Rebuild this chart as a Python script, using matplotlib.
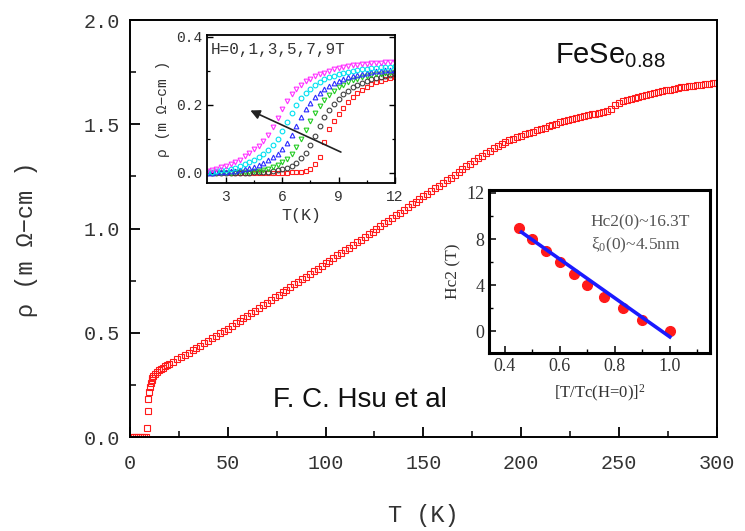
import matplotlib
matplotlib.use("Agg")
import matplotlib.pyplot as plt
from matplotlib.ticker import MultipleLocator

plt.rcParams["mathtext.default"] = "regular"

MONO = ["Liberation Mono", "DejaVu Sans Mono"]
SERIF = ["Liberation Serif", "DejaVu Serif"]
SANS = ["Liberation Sans", "DejaVu Sans"]
TXT = "#333333"

# ---- main curve: rho(T), zero field ----
T_low = [1, 2, 3, 4, 5, 6, 7, 8, 8.5, 9.0, 9.3, 9.6, 10, 10.5, 11, 11.5, 12, 13, 14, 15, 16, 17, 18, 19]
rho_low = [0, 0, 0, 0, 0, 0, 0, 0.002, 0.043, 0.127, 0.183, 0.218, 0.240, 0.258, 0.272, 0.283, 0.291,
           0.304, 0.314, 0.321, 0.327, 0.333, 0.339, 0.344]
T_high = [20, 22, 24, 26, 28, 30, 32, 34, 36, 38, 40, 42, 44, 46, 48, 50, 52, 54, 56, 58,
          60, 62, 64, 66, 68, 70, 72, 74, 76, 78, 80, 82, 84, 86, 88, 90, 92, 94, 96, 98,
          100, 102, 104, 106, 108, 110, 112, 114, 116, 118, 120, 122, 124, 126, 128, 130, 132, 134, 136, 138,
          140, 142, 144, 146, 148, 150, 152, 154, 156, 158, 160, 162, 164, 166, 168, 170, 172, 174, 176, 178,
          180, 182, 184, 186, 188, 190, 192, 194, 196, 198, 200, 202, 204, 206, 208, 210, 212, 214, 216, 218,
          220, 222, 224, 226, 228, 230, 232, 234, 236, 238, 240, 242, 244, 246, 248, 250, 252, 254, 256, 258,
          260, 262, 264, 266, 268, 270, 272, 274, 276, 278, 280, 282, 284, 286, 288, 290, 292, 294, 296, 298, 300]
rho_high = [0.350, 0.361, 0.372, 0.383, 0.394, 0.405, 0.416, 0.428, 0.439, 0.451,
            0.462, 0.474, 0.485, 0.497, 0.508, 0.520, 0.532, 0.545, 0.557, 0.570,
            0.582, 0.595, 0.607, 0.620, 0.632, 0.645, 0.657, 0.670, 0.682, 0.695,
            0.707, 0.720, 0.732, 0.745, 0.757, 0.770, 0.783, 0.795, 0.808, 0.820,
            0.833, 0.846, 0.858, 0.871, 0.883, 0.896, 0.909, 0.922, 0.934, 0.947,
            0.960, 0.973, 0.986, 0.999, 1.012, 1.025, 1.038, 1.051, 1.064, 1.077,
            1.090, 1.103, 1.116, 1.129, 1.142, 1.155, 1.168, 1.180, 1.193, 1.205,
            1.218, 1.231, 1.245, 1.258, 1.272, 1.285, 1.298, 1.311, 1.324, 1.337,
            1.350, 1.362, 1.374, 1.386, 1.397, 1.408, 1.417, 1.425, 1.432, 1.439,
            1.446, 1.452, 1.459, 1.465, 1.472, 1.478, 1.484, 1.491, 1.497, 1.504,
            1.510, 1.515, 1.520, 1.525, 1.530, 1.535, 1.539, 1.544, 1.548, 1.552,
            1.556, 1.560, 1.566, 1.572, 1.592, 1.605, 1.611, 1.617, 1.622, 1.628,
            1.633, 1.637, 1.642, 1.646, 1.651, 1.655, 1.659, 1.663, 1.667, 1.670,
            1.674, 1.677, 1.680, 1.682, 1.685, 1.688, 1.690, 1.693, 1.695, 1.698, 1.700]

# ---- inset 1: low-T transitions in field ----
T_in = [2.00, 2.25, 2.50, 2.75, 3.00, 3.25, 3.50, 3.75, 4.00, 4.25, 4.50, 4.75, 5.00, 5.25,
        5.50, 5.75, 6.00, 6.25, 6.50, 6.75, 7.00, 7.25, 7.50, 7.75, 8.00, 8.25, 8.50, 8.75,
        9.00, 9.25, 9.50, 9.75, 10.00, 10.25, 10.50, 10.75, 11.00, 11.25, 11.50, 11.75, 12.00]
rho_0T = [0, 0, 0, 0, 0, 0, 0, 0, 0, 0, 0, 0, 0, 0, 0, 0, 0,
          0.001, 0.002, 0.003, 0.004, 0.006, 0.012, 0.025, 0.048, 0.090, 0.128, 0.153, 0.172,
          0.190, 0.207, 0.222, 0.235, 0.245, 0.253, 0.260, 0.266, 0.271, 0.276, 0.280, 0.283]
rho_1T = [0, 0, 0, 0, 0, 0, 0.001, 0.001, 0.001, 0.001, 0.002, 0.002, 0.003, 0.004,
          0.006, 0.008, 0.011, 0.015, 0.021, 0.030, 0.043, 0.060, 0.083, 0.110, 0.138, 0.163,
          0.185, 0.203, 0.218, 0.231, 0.242, 0.251, 0.259, 0.265, 0.271, 0.276, 0.280, 0.283,
          0.286, 0.288, 0.290]
rho_3T = [0, 0, 0, 0.001, 0.001, 0.001, 0.002, 0.002, 0.003, 0.004, 0.005, 0.007, 0.010, 0.013,
          0.018, 0.024, 0.032, 0.042, 0.056, 0.075, 0.099, 0.126, 0.153, 0.177, 0.198, 0.215,
          0.229, 0.241, 0.251, 0.259, 0.266, 0.272, 0.277, 0.281, 0.285, 0.288, 0.290, 0.292,
          0.294, 0.295, 0.296]
rho_5T = [0, 0.001, 0.002, 0.003, 0.004, 0.005, 0.007, 0.009, 0.012, 0.015, 0.019, 0.024, 0.030, 0.037,
          0.046, 0.057, 0.071, 0.089, 0.112, 0.138, 0.164, 0.187, 0.206, 0.222, 0.236, 0.247,
          0.256, 0.264, 0.270, 0.276, 0.281, 0.285, 0.288, 0.291, 0.294, 0.296, 0.298, 0.300,
          0.301, 0.302, 0.303]
rho_7T = [0.003, 0.004, 0.006, 0.008, 0.010, 0.013, 0.016, 0.020, 0.025, 0.031, 0.038, 0.046, 0.056, 0.068,
          0.082, 0.100, 0.124, 0.150, 0.177, 0.200, 0.219, 0.235, 0.248, 0.259, 0.268, 0.275,
          0.281, 0.286, 0.290, 0.294, 0.297, 0.300, 0.302, 0.304, 0.306, 0.308, 0.309, 0.310,
          0.311, 0.312, 0.313]
rho_9T = [0.007, 0.010, 0.013, 0.017, 0.021, 0.026, 0.032, 0.039, 0.049, 0.059, 0.069, 0.080, 0.094, 0.112,
          0.134, 0.160, 0.188, 0.212, 0.231, 0.246, 0.259, 0.269, 0.277, 0.284, 0.290, 0.295,
          0.300, 0.304, 0.308, 0.311, 0.314, 0.316, 0.318, 0.320, 0.321, 0.322, 0.323, 0.324,
          0.325, 0.326, 0.327]
inset_series = [
    (rho_0T, "s", "#ff2020"),
    (rho_1T, "o", "#404040"),
    (rho_3T, "v", "#22cc22"),
    (rho_5T, "^", "#2a2aff"),
    (rho_7T, "o", "#00e0f0"),
    (rho_9T, "v", "#ff30ff"),
]

# ---- inset 2: Hc2 vs reduced temperature ----
t2 = [0.45, 0.50, 0.55, 0.60, 0.65, 0.70, 0.76, 0.83, 0.90, 1.00]
hc2 = [9, 8, 7, 6, 5, 4, 3, 2, 1, 0]
fit_x = [0.46, 1.00]
fit_y = [8.6, -0.5]

fig = plt.figure(figsize=(7.45, 5.31), dpi=100, facecolor="white")

# main axes
ax = fig.add_axes([0.1745, 0.177, 0.7875, 0.785])
ax.plot(T_low + T_high, rho_low + rho_high, ls="none", marker="s", ms=4.2, mfc="none",
        mec="#ff1a1a", mew=0.8)
ax.set_xlim(0, 300)
ax.set_ylim(0, 2.0)
ax.xaxis.set_major_locator(MultipleLocator(50))
ax.xaxis.set_minor_locator(MultipleLocator(25))
ax.yaxis.set_major_locator(MultipleLocator(0.5))
ax.yaxis.set_minor_locator(MultipleLocator(0.25))
ax.yaxis.set_major_formatter(lambda v, p: f"{v:.1f}")
ax.tick_params(which="both", direction="in", colors="black", labelcolor=TXT, labelsize=14.5)
ax.tick_params(which="major", length=7, width=1.3)
ax.tick_params(which="minor", length=4, width=1.1)
ax.tick_params(axis="x", pad=12)
ax.tick_params(axis="y", pad=7)
for lab in ax.get_xticklabels() + ax.get_yticklabels():
    lab.set_family(MONO)
for s in ax.spines.values():
    s.set_linewidth(1.4)

fig.text(0.568, 0.03, "T (K)", family=MONO, fontsize=17, color=TXT, ha="center", va="center")
fig.text(0.035, 0.55, "ρ (m Ω−cm )", family=MONO, fontsize=17, color=TXT,
         rotation=90, ha="center", va="center")
ax.text(0.725, 0.915, "FeSe$_{0.88}$", transform=ax.transAxes, family=SANS, fontsize=21,
        color="#111111", ha="left", va="center")
ax.text(0.392, 0.088, "F. C. Hsu et al", transform=ax.transAxes, family=SANS, fontsize=20,
        color="#111111", ha="center", va="center")

# inset 1
a1 = fig.add_axes([0.278, 0.655, 0.252, 0.279])
for vals, mk, col in inset_series:
    a1.plot(T_in, vals, ls="none", marker=mk, ms=3.4, mfc="none", mec=col, mew=0.8)
a1.set_xlim(2, 12)
a1.set_ylim(-0.03, 0.405)
a1.xaxis.set_major_locator(MultipleLocator(3))
a1.xaxis.set_minor_locator(MultipleLocator(1.5))
a1.yaxis.set_major_locator(MultipleLocator(0.2))
a1.yaxis.set_minor_locator(MultipleLocator(0.1))
a1.yaxis.set_major_formatter(lambda v, p: f"{v:.1f}")
a1.tick_params(which="both", direction="in", right=True, labelsize=10.5, labelcolor=TXT)
a1.tick_params(which="major", length=4, width=1.0)
a1.tick_params(which="minor", length=2.5, width=0.9)
a1.tick_params(axis="x", pad=5)
for lab in a1.get_xticklabels() + a1.get_yticklabels():
    lab.set_family(MONO)
for s in a1.spines.values():
    s.set_linewidth(1.3)
a1.set_xlabel("T(K)", family=MONO, fontsize=12, color=TXT, labelpad=3)
a1.set_ylabel("ρ (m Ω−cm )", family=MONO, fontsize=10.5, color=TXT, labelpad=4)
a1.text(0.02, 0.9, "H=0,1,3,5,7,9T", transform=a1.transAxes, family=MONO, fontsize=11.5,
        color=TXT, ha="left", va="center")
a1.annotate("", xy=(4.17, 0.187), xytext=(9.26, 0.058),
            arrowprops=dict(arrowstyle="-|>", color="#222222", lw=1.2, mutation_scale=14))

# inset 2
a2 = fig.add_axes([0.6564, 0.3352, 0.2966, 0.307])
a2.plot(t2, hc2, ls="none", marker="o", ms=7, color="#ff1a1a", zorder=3)
a2.plot(fit_x, fit_y, color="#1a1aff", lw=2.6, zorder=4)
a2.set_xlim(0.342, 1.146)
a2.set_ylim(-1.9, 12.26)
a2.xaxis.set_major_locator(MultipleLocator(0.2))
a2.xaxis.set_minor_locator(MultipleLocator(0.1))
a2.yaxis.set_major_locator(MultipleLocator(4))
a2.yaxis.set_minor_locator(MultipleLocator(2))
a2.xaxis.set_major_formatter(lambda v, p: f"{v:.1f}")
a2.yaxis.set_major_formatter(lambda v, p: f"{v:.0f}")
a2.tick_params(which="both", direction="in", labelsize=13, labelcolor=TXT)
a2.tick_params(which="major", length=5, width=1.1)
a2.tick_params(which="minor", length=3, width=1.0)
for lab in a2.get_xticklabels() + a2.get_yticklabels():
    lab.set_family(SERIF)
for s in a2.spines.values():
    s.set_linewidth(2.2)
a2.set_xlabel("[T/Tc(H=0)]$^2$", family=SERIF, fontsize=12, color=TXT, labelpad=6)
a2.set_ylabel("Hc2 (T)", family=SERIF, fontsize=12.5, color=TXT, labelpad=3)
a2.text(0.46, 0.8, "Hc2(0)~16.3T", transform=a2.transAxes, family=SERIF, fontsize=12.5,
        color="#555555", ha="left", va="center")
a2.text(0.46, 0.66, "ξ$_0$(0)~4.5nm", transform=a2.transAxes, family=SERIF, fontsize=12.5,
        color="#555555", ha="left", va="center")

fig.savefig("out.png", dpi=100, facecolor="white")
